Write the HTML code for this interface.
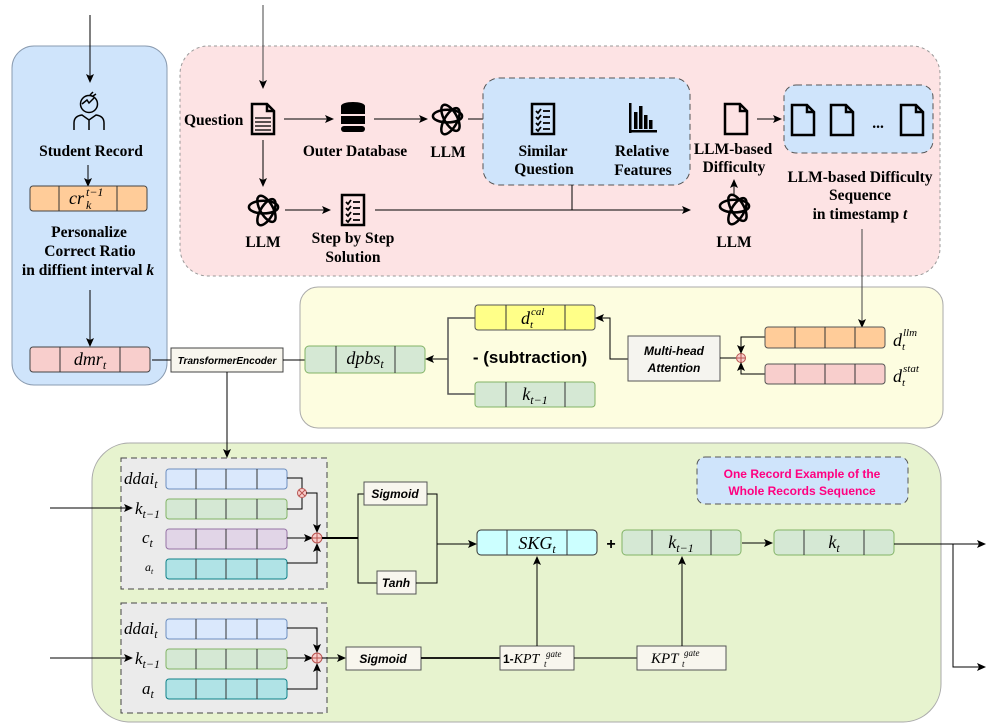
<!DOCTYPE html>
<html><head><meta charset="utf-8"><style>
html,body{margin:0;padding:0;background:#fff}
svg{display:block}
.s{font-family:"Liberation Serif",serif;font-weight:bold;font-size:15.5px;fill:#000}
.m{font-family:"Liberation Serif",serif;font-style:italic;fill:#000}
.a{font-family:"Liberation Sans",sans-serif;font-style:italic;font-weight:bold;fill:#000}
</style></head><body>
<svg width="999" height="724" viewBox="0 0 999 724" xmlns="http://www.w3.org/2000/svg">
<defs>
<marker id="ar" markerWidth="10" markerHeight="10" refX="8" refY="5" orient="auto" markerUnits="userSpaceOnUse"><path d="M0,1 L9,5 L0,9 L2,5 Z" fill="#000"/></marker>
<symbol id="ai" viewBox="-18 -18 36 36">
<g fill="none" stroke="#000" stroke-width="2.6">
<ellipse rx="15" ry="6.5" transform="rotate(0) translate(0,-3.5)"/>
<ellipse rx="15" ry="6.5" transform="rotate(60) translate(0,-3.5)"/>
<ellipse rx="15" ry="6.5" transform="rotate(120) translate(0,-3.5)"/>
</g></symbol>
<symbol id="doc" viewBox="0 0 26 34"><path d="M2,2 H17 L24,9 V32 H2 Z M17,2 V9 H24" fill="none" stroke="#000" stroke-width="2.5"/></symbol>
<symbol id="chk" viewBox="0 0 26 34"><rect x="2" y="2" width="22" height="30" fill="none" stroke="#000" stroke-width="2.5"/>
<g stroke="#000" stroke-width="1.8" fill="none"><path d="M6,9 l2,2 l3,-4 M6,15 l2,2 l3,-4 M6,21 l2,2 l3,-4 M6,27 l2,2 l3,-4 M13,9 h7 M13,15 h7 M13,21 h7 M13,27 h7"/></g></symbol>
</defs>

<rect x="12" y="46" width="155" height="339" rx="22" fill="#cfe4fb" stroke="#8a9bb0" stroke-width="1"/>
<rect x="180" y="46" width="760" height="230" rx="28" fill="#fde3e4" stroke="#999" stroke-dasharray="3,3"/>
<rect x="300" y="287" width="643" height="141" rx="18" fill="#fdfde0" stroke="#aaa"/>
<rect x="92" y="443" width="849" height="279" rx="38" fill="#e7f3cf" stroke="#aaa"/>

<line x1="90" y1="15" x2="90" y2="82" stroke="#000" marker-end="url(#ar)"/>
<g fill="none" stroke="#000" stroke-width="1.5">
<circle cx="89" cy="104" r="8.5"/>
<path d="M82,104 l5,-4 l2,3 l5,-5 M90,95 l3,-3 M93,96 l3,-2"/>
<path d="M74,130 v-7 q0,-7 8,-8 l7,5 l7,-5 q8,1 8,8 v7 M89,120 v10"/>
</g>
<text class="s" x="91" y="156" text-anchor="middle">Student Record</text>
<line x1="88" y1="165" x2="88" y2="186" stroke="#000" marker-end="url(#ar)"/>
<rect x="30" y="186" width="117" height="25" rx="3" fill="#ffcc99" stroke="#444"/>
<line x1="59" y1="186" x2="59" y2="211" stroke="#333"/><line x1="117" y1="186" x2="117" y2="211" stroke="#333"/>
<text class="m" x="69" y="204" font-size="18">cr</text><text class="m" x="86" y="196" font-size="12">t−1</text><text class="m" x="86" y="209" font-size="12">k</text>
<text class="s" x="89" y="237" text-anchor="middle">Personalize</text>
<text class="s" x="90" y="256" text-anchor="middle">Correct Ratio</text>
<text class="s" x="88" y="275" text-anchor="middle">in diffient interval <tspan class="m">k</tspan></text>
<line x1="90" y1="290" x2="90" y2="346" stroke="#000" marker-end="url(#ar)"/>
<rect x="30" y="347" width="120" height="25" rx="3" fill="#f8cecc" stroke="#444"/>
<line x1="60" y1="347" x2="60" y2="372" stroke="#333"/><line x1="120" y1="347" x2="120" y2="372" stroke="#333"/>
<text class="m" x="90" y="365" font-size="18" text-anchor="middle">dmr<tspan font-size="12" dy="4">t</tspan></text>
<line x1="152" y1="360" x2="171" y2="360" stroke="#000"/>
<rect x="171" y="348" width="112" height="24" fill="#f8f6ee" stroke="#444"/>
<text class="a" x="227" y="364" font-size="10" font-weight="normal" text-anchor="middle">TransformerEncoder</text>
<line x1="283" y1="360" x2="305" y2="360" stroke="#000"/>
<line x1="227" y1="372" x2="227" y2="457" stroke="#000" marker-end="url(#ar)"/>

<line x1="263" y1="5" x2="263" y2="88" stroke="#444" marker-end="url(#ar)"/>
<text class="s" x="184" y="125">Question</text>
<use href="#doc" x="250" y="102" width="26" height="34"/>
<g stroke="#000" stroke-width="1.3"><line x1="255" y1="118" x2="271" y2="118"/><line x1="255" y1="122" x2="271" y2="122"/><line x1="255" y1="126" x2="271" y2="126"/><line x1="255" y1="130" x2="271" y2="130"/></g>
<line x1="284" y1="119" x2="333" y2="119" stroke="#000" marker-end="url(#ar)"/>
<g fill="#000"><ellipse cx="353" cy="106" rx="12" ry="4"/><rect x="341" y="106" width="24" height="8"/><rect x="341" y="116" width="24" height="8"/><rect x="341" y="126" width="24" height="6" rx="3"/></g>
<text class="s" x="355" y="156" text-anchor="middle">Outer Database</text>
<line x1="374" y1="119" x2="427" y2="119" stroke="#000" marker-end="url(#ar)"/>
<use href="#ai" x="430" y="102" width="35" height="35"/>
<text class="s" x="448" y="157" text-anchor="middle" font-family="Liberation Sans" font-size="17">LLM</text>
<line x1="468" y1="119" x2="525" y2="119" stroke="#000" marker-end="url(#ar)"/>
<rect x="483" y="78" width="207" height="107" rx="16" fill="#cfe4fb" stroke="#555" stroke-dasharray="6,4"/>
<use href="#chk" x="530" y="102" width="26" height="34"/>
<text class="s" x="543" y="156" text-anchor="middle">Similar</text>
<text class="s" x="544" y="174" text-anchor="middle">Question</text>
<g fill="#000"><rect x="629" y="103" width="2.5" height="30"/><rect x="629" y="130" width="28" height="2.5"/><rect x="634" y="112" width="3.5" height="17"/><rect x="639" y="106" width="3.5" height="23"/><rect x="644" y="115" width="3.5" height="14"/><rect x="649" y="120" width="3.5" height="9"/></g>
<text class="s" x="642" y="156" text-anchor="middle">Relative</text>
<text class="s" x="643" y="175" text-anchor="middle">Features</text>
<use href="#doc" x="723" y="102" width="26" height="34"/>
<text class="s" x="733" y="154" text-anchor="middle">LLM-based</text>
<text class="s" x="734" y="172" text-anchor="middle">Difficulty</text>
<line x1="757" y1="119" x2="781" y2="119" stroke="#000" marker-end="url(#ar)"/>
<rect x="784" y="85" width="149" height="68" rx="12" fill="#cfe4fb" stroke="#555" stroke-dasharray="6,4"/>
<use href="#doc" x="790" y="103" width="26" height="34"/>
<use href="#doc" x="829" y="103" width="26" height="34"/>
<text class="s" x="878" y="128" text-anchor="middle">...</text>
<use href="#doc" x="899" y="103" width="26" height="34"/>
<text class="s" x="860" y="182" text-anchor="middle">LLM-based  Difficulty</text>
<text class="s" x="860" y="200" text-anchor="middle">Sequence</text>
<text class="s" x="860" y="219" text-anchor="middle">in timestamp <tspan class="m">t</tspan></text>
<line x1="263" y1="140" x2="263" y2="186" stroke="#000" marker-end="url(#ar)"/>
<use href="#ai" x="246" y="193" width="35" height="35"/>
<text class="s" x="263" y="247" text-anchor="middle">LLM</text>
<line x1="285" y1="210" x2="330" y2="210" stroke="#000" marker-end="url(#ar)"/>
<use href="#chk" x="340" y="193" width="26" height="34"/>
<text class="s" x="353" y="243" text-anchor="middle">Step by Step</text>
<text class="s" x="353" y="262" text-anchor="middle">Solution</text>
<line x1="375" y1="210" x2="690" y2="210" stroke="#000" marker-end="url(#ar)"/>
<line x1="572" y1="185" x2="572" y2="210" stroke="#000"/>
<use href="#ai" x="717" y="192" width="35" height="35"/>
<line x1="734" y1="195" x2="734" y2="180" stroke="#000" marker-end="url(#ar)"/>
<text class="s" x="734" y="247" text-anchor="middle">LLM</text>
<line x1="862" y1="229" x2="862" y2="327" stroke="#444" marker-end="url(#ar)"/>

<rect x="305" y="346" width="120" height="27" rx="4" fill="#d5e8d4" stroke="#82b366"/>
<line x1="336" y1="346" x2="336" y2="373" stroke="#333"/><line x1="395" y1="346" x2="395" y2="373" stroke="#333"/>
<text class="m" x="365" y="364" font-size="18" text-anchor="middle">dpbs<tspan font-size="12" dy="4">t</tspan></text>
<line x1="448" y1="359" x2="426" y2="359" stroke="#000" marker-end="url(#ar)"/>
<path d="M475,318 H448 V394 H475" fill="none" stroke="#555" stroke-width="1.5"/>
<rect x="475" y="305" width="120" height="25" rx="3" fill="#ffff88" stroke="#555"/>
<line x1="506" y1="305" x2="506" y2="330" stroke="#333"/><line x1="565" y1="305" x2="565" y2="330" stroke="#333"/>
<text class="m" x="521" y="324" font-size="18">d</text><text class="m" x="531" y="315" font-size="11">cal</text><text class="m" x="530" y="328" font-size="11">t</text>
<rect x="475" y="382" width="120" height="25" rx="3" fill="#d5e8d4" stroke="#82b366"/>
<line x1="506" y1="382" x2="506" y2="407" stroke="#333"/><line x1="565" y1="382" x2="565" y2="407" stroke="#333"/>
<text class="m" x="535" y="400" font-size="18" text-anchor="middle">k<tspan font-size="12" dy="4">t−1</tspan></text>
<text x="530" y="363" font-family="Liberation Sans" font-weight="bold" font-size="17" text-anchor="middle">- (subtraction)</text>
<path d="M628,359 H610 V318 H596" fill="none" stroke="#000" marker-end="url(#ar)"/>
<rect x="628" y="336" width="92" height="45" fill="#f5f4ef" stroke="#555"/>
<text class="a" x="674" y="355" font-size="12" text-anchor="middle">Multi-head</text>
<text class="a" x="674" y="372" font-size="12" text-anchor="middle">Attention</text>
<line x1="720" y1="358" x2="736" y2="358" stroke="#000"/>
<circle cx="741" cy="358" r="4.5" fill="#f8cecc" stroke="#b85450"/><path d="M736.5,358 h9 M741,353.5 v9" stroke="#b85450"/>
<path d="M765,337 H741 V353" fill="none" stroke="#000" marker-end="url(#ar)"/>
<path d="M765,374 H741 V363" fill="none" stroke="#000" marker-end="url(#ar)"/>
<rect x="765" y="327" width="120" height="21" rx="3" fill="#ffcc99" stroke="#555"/>
<rect x="765" y="364" width="120" height="20" rx="3" fill="#f8cecc" stroke="#555"/>
<g stroke="#333"><line x1="795" y1="327" x2="795" y2="348"/><line x1="825" y1="327" x2="825" y2="348"/><line x1="855" y1="327" x2="855" y2="348"/>
<line x1="795" y1="364" x2="795" y2="384"/><line x1="825" y1="364" x2="825" y2="384"/><line x1="855" y1="364" x2="855" y2="384"/></g>
<text class="m" x="893" y="346" font-size="18">d</text><text class="m" x="903" y="336" font-size="11">llm</text><text class="m" x="902" y="350" font-size="11">t</text>
<text class="m" x="893" y="382" font-size="18">d</text><text class="m" x="903" y="372" font-size="11">stat</text><text class="m" x="902" y="386" font-size="11">t</text>

<rect x="121" y="458" width="206" height="131" fill="#ebebeb" stroke="#444" stroke-dasharray="6,4"/>
<rect x="121" y="603" width="206" height="110" fill="#ebebeb" stroke="#444" stroke-dasharray="6,4"/>
<g stroke="#333">
<rect x="166" y="469" width="121" height="20" rx="3" fill="#dae8fc" stroke="#6c8ebf"/>
<rect x="166" y="499" width="121" height="20" rx="3" fill="#d5e8d4" stroke="#82b366"/>
<rect x="166" y="529" width="121" height="20" rx="3" fill="#e1d5e7" stroke="#9673a6"/>
<rect x="166" y="559" width="121" height="20" rx="3" fill="#b0e3e6" stroke="#0e8088"/>
<rect x="166" y="619" width="121" height="20" rx="3" fill="#dae8fc" stroke="#6c8ebf"/>
<rect x="166" y="649" width="121" height="20" rx="3" fill="#d5e8d4" stroke="#82b366"/>
<rect x="166" y="679" width="121" height="20" rx="3" fill="#b0e3e6" stroke="#0e8088"/>
<path d="M196,469 v20 M226,469 v20 M257,469 v20 M196,499 v20 M226,499 v20 M257,499 v20 M196,529 v20 M226,529 v20 M257,529 v20 M196,559 v20 M226,559 v20 M257,559 v20 M196,619 v20 M226,619 v20 M257,619 v20 M196,649 v20 M226,649 v20 M257,649 v20 M196,679 v20 M226,679 v20 M257,679 v20"/>
</g>
<text class="m" x="124" y="484" font-size="17">ddai<tspan font-size="12" dy="4">t</tspan></text>
<text class="m" x="135" y="514" font-size="17">k<tspan font-size="12" dy="4">t−1</tspan></text>
<text class="m" x="142" y="543" font-size="17">c<tspan font-size="12" dy="4">t</tspan></text>
<text class="m" x="145" y="571" font-size="12">a<tspan font-size="8" dy="3">t</tspan></text>
<text class="m" x="124" y="634" font-size="17">ddai<tspan font-size="12" dy="4">t</tspan></text>
<text class="m" x="135" y="664" font-size="17">k<tspan font-size="12" dy="4">t−1</tspan></text>
<text class="m" x="142" y="694" font-size="17">a<tspan font-size="12" dy="4">t</tspan></text>
<line x1="50" y1="508" x2="132" y2="508" stroke="#000" marker-end="url(#ar)"/>
<line x1="50" y1="658" x2="132" y2="658" stroke="#000" marker-end="url(#ar)"/>
<path d="M287,478 H302 V488 M287,509 H302 V498" fill="none" stroke="#000"/>
<circle cx="302" cy="493" r="4.5" fill="#f8cecc" stroke="#b85450"/><path d="M299,490 l6,6 M305,490 l-6,6" stroke="#b85450"/>
<path d="M306,493 H317 V532" fill="none" stroke="#000" marker-end="url(#ar)"/>
<line x1="287" y1="538" x2="312" y2="538" stroke="#000" marker-end="url(#ar)"/>
<path d="M287,563 H317 V544" fill="none" stroke="#000" marker-end="url(#ar)"/>
<circle cx="317" cy="538" r="5" fill="#f8cecc" stroke="#b85450"/><path d="M312,538 h10 M317,533 v10" stroke="#b85450"/>
<path d="M322,538 H358" stroke="#000" stroke-width="2"/>
<path d="M364,494 H358 V583 H377" fill="none" stroke="#000"/>
<rect x="364" y="482" width="63" height="23" fill="#f8f6ee" stroke="#555"/>
<text class="a" x="395" y="498" font-size="12" text-anchor="middle">Sigmoid</text>
<rect x="377" y="571" width="39" height="23" fill="#f8f6ee" stroke="#555"/>
<text class="a" x="396" y="587" font-size="12" text-anchor="middle">Tanh</text>
<path d="M427,494 H437 V583 H416" fill="none" stroke="#000"/>
<line x1="437" y1="544" x2="476" y2="544" stroke="#000" marker-end="url(#ar)"/>
<rect x="477" y="530" width="120" height="25" rx="4" fill="#ccffff" stroke="#333"/>
<line x1="507" y1="530" x2="507" y2="555" stroke="#333"/><line x1="567" y1="530" x2="567" y2="555" stroke="#333"/>
<text class="m" x="537" y="549" font-size="18" text-anchor="middle">SKG<tspan font-size="12" dy="4">t</tspan></text>
<text x="611" y="549" font-family="Liberation Sans" font-weight="bold" font-size="16" text-anchor="middle">+</text>
<rect x="622" y="530" width="119" height="25" rx="4" fill="#d5e8d4" stroke="#82b366"/>
<line x1="652" y1="530" x2="652" y2="555" stroke="#333"/><line x1="711" y1="530" x2="711" y2="555" stroke="#333"/>
<text class="m" x="681" y="548" font-size="18" text-anchor="middle">k<tspan font-size="12" dy="4">t−1</tspan></text>
<line x1="742" y1="543" x2="772" y2="543" stroke="#000" marker-end="url(#ar)"/>
<rect x="774" y="530" width="120" height="25" rx="4" fill="#d5e8d4" stroke="#82b366"/>
<line x1="804" y1="530" x2="804" y2="555" stroke="#333"/><line x1="864" y1="530" x2="864" y2="555" stroke="#333"/>
<text class="m" x="834" y="548" font-size="18" text-anchor="middle">k<tspan font-size="12" dy="4">t</tspan></text>
<line x1="894" y1="544" x2="985" y2="544" stroke="#000" marker-end="url(#ar)"/>
<path d="M953,544 V667 H985" fill="none" stroke="#000" marker-end="url(#ar)"/>
<rect x="697" y="457" width="211" height="47" rx="8" fill="#cfe4fb" stroke="#555" stroke-dasharray="6,4"/>
<text x="802" y="478" font-family="Liberation Sans" font-weight="bold" font-size="12" fill="#ff0080" text-anchor="middle">One Record Example of the</text>
<text x="802" y="495" font-family="Liberation Sans" font-weight="bold" font-size="12" fill="#ff0080" text-anchor="middle">Whole Records Sequence</text>
<path d="M287,628 H317 V652" fill="none" stroke="#000" marker-end="url(#ar)"/>
<line x1="287" y1="658" x2="312" y2="658" stroke="#000" marker-end="url(#ar)"/>
<path d="M287,689 H317 V664" fill="none" stroke="#000" marker-end="url(#ar)"/>
<circle cx="317" cy="658" r="5" fill="#f8cecc" stroke="#b85450"/><path d="M312,658 h10 M317,653 v10" stroke="#b85450"/>
<line x1="322" y1="658" x2="345" y2="658" stroke="#000" marker-end="url(#ar)"/>
<rect x="346" y="647" width="75" height="23" fill="#f8f6ee" stroke="#555"/>
<text class="a" x="383" y="663" font-size="12" text-anchor="middle">Sigmoid</text>
<line x1="421" y1="658" x2="500" y2="658" stroke="#000" stroke-width="1.8"/>
<rect x="500" y="646" width="74" height="24" fill="#f8f6ee" stroke="#555"/>
<text x="503" y="663" font-size="12" font-family="Liberation Sans" font-weight="bold">1-<tspan class="m" font-weight="normal" font-size="14">KPT</tspan></text>
<text class="m" x="546" y="657" font-size="9">gate</text><text class="m" x="544" y="667" font-size="9">t</text>
<line x1="574" y1="658" x2="637" y2="658" stroke="#000"/>
<rect x="637" y="646" width="89" height="24" fill="#f8f6ee" stroke="#555"/>
<text class="m" x="651" y="663" font-size="15">KPT</text><text class="m" x="684" y="656" font-size="9">gate</text><text class="m" x="682" y="667" font-size="9">t</text>
<line x1="537" y1="646" x2="537" y2="557" stroke="#000" marker-end="url(#ar)"/>
<line x1="682" y1="646" x2="682" y2="557" stroke="#000" marker-end="url(#ar)"/>
</svg>
</body></html>
